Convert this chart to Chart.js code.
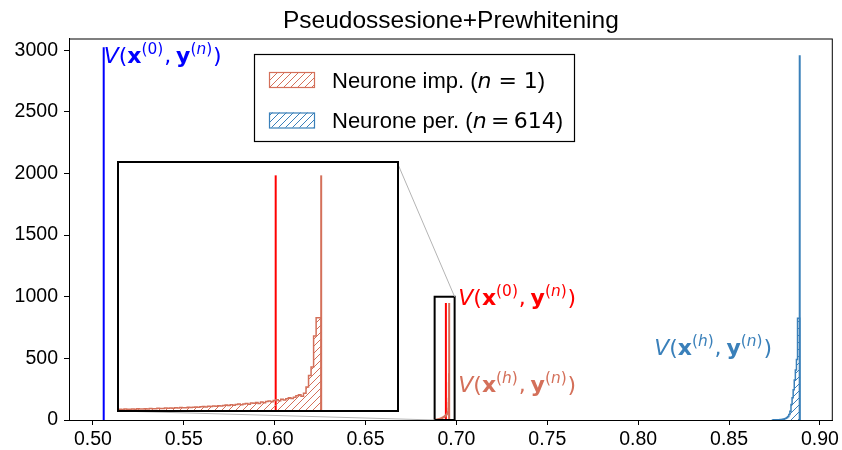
<!DOCTYPE html>
<html lang="it">
<head>
<meta charset="UTF-8">
<title>Pseudossesione+Prewhitening</title>
<script src="https://cdn.jsdelivr.net/npm/chart.js"></script>
<style>
  body { margin: 0; background: #fff; }
  .wrap { position: relative; width: 842px; height: 450px; }
  #mainChart { position: absolute; left: 0; top: 0; }
  #insetBox {
    position: absolute; left: 117px; top: 161px;
    width: 282px; height: 251px; box-sizing: border-box;
    border: 2px solid #000; background: #fff;
  }
</style>
</head>
<body>
<div class="wrap">
  <canvas id="mainChart" width="842" height="450"></canvas>
  <div id="insetBox"><canvas id="insetChart"></canvas></div>
</div>

<script>
// ---- dati ----
const xTicks = [0.50, 0.55, 0.60, 0.65, 0.70, 0.75, 0.80, 0.85, 0.90];
const yTicks = [0, 500, 1000, 1500, 2000, 2500, 3000];
const xLimits = [0.4868, 0.9071];
const yLimits = [0, 3095];
const insetXLimits = [0.688, 0.699];
const insetYLimits = [0, 1000];

// linee verticali V(x(0),y(n)) e V(x(h),y(n))
const vlineX   = [0.5059, 0.6942, 0.6960, 0.8889];
const vlineTop = [3025, 950, 950, 2960];

// istogramma neurone impostore (n = 1)
const impEdges = [0.6880, 0.6881, 0.6882, 0.6883, 0.6884, 0.6885, 0.6886, 0.6887, 0.6888, 0.6889,
                  0.6890, 0.6891, 0.6892, 0.6893, 0.6894, 0.6895, 0.6896, 0.6897, 0.6898, 0.6899,
                  0.6900, 0.6901, 0.6902, 0.6903, 0.6904, 0.6905, 0.6906, 0.6907, 0.6908, 0.6909,
                  0.6910, 0.6911, 0.6912, 0.6913, 0.6914, 0.6915, 0.6916, 0.6917, 0.6918, 0.6919,
                  0.6920, 0.6921, 0.6922, 0.6923, 0.6924, 0.6925, 0.6926, 0.6927, 0.6928, 0.6929,
                  0.6930, 0.6931, 0.6932, 0.6933, 0.6934, 0.6935, 0.6936, 0.6937, 0.6938, 0.6939,
                  0.6940, 0.6941, 0.6942, 0.6943, 0.6944, 0.6945, 0.6946, 0.6947, 0.6948, 0.6949,
                  0.6950, 0.6951, 0.6952, 0.6953, 0.6954, 0.6955, 0.6956, 0.6957, 0.6958, 0.6959,
                  0.6960];
const impCounts = [2, 3, 2, 4, 3, 3, 4, 3, 5, 4,
                   4, 5, 4, 6, 5, 5, 7, 6, 6, 8,
                   7, 8, 7, 9, 8, 10, 9, 9, 11, 10,
                   11, 12, 11, 13, 14, 12, 15, 14, 16, 15,
                   17, 16, 18, 20, 18, 21, 19, 22, 24, 21,
                   24, 26, 23, 28, 27, 30, 26, 32, 29, 34,
                   36, 33, 38, 41, 37, 44, 40, 46, 50, 47,
                   52, 58, 62, 56, 68, 93, 140, 174, 300, 373];

// istogramma neuroni persona (n = 614)
const perEdges = [0.8739, 0.8745, 0.8751, 0.8757, 0.8763, 0.8769, 0.8775, 0.8781, 0.8787, 0.8793,
                  0.8799, 0.8805, 0.8811, 0.8817, 0.8823, 0.8829, 0.8835, 0.8841, 0.8847, 0.8853,
                  0.8859, 0.8865, 0.8871, 0.8877, 0.8883, 0.8889];
const perCounts = [1, 1, 2, 1, 2, 2, 3, 3, 4, 5,
                   6, 8, 10, 14, 20, 28, 45, 70, 125, 180,
                   245, 325, 405, 490, 825];

// ---- colori ----
const BLUE = '#0000ff';
const RED = '#ff0000';
const ORANGE = '#d4705a';
const STEEL = '#3a80ba';
const TICK_FONT = { family: 'Liberation Sans', size: 19.5 };

function hatch(color) {
    const c = document.createElement('canvas');
    c.width = 7; c.height = 7;
    const g = c.getContext('2d');
    g.strokeStyle = color;
    g.lineWidth = 1;
    g.beginPath();
    g.moveTo(0, 7); g.lineTo(7, 0);
    g.moveTo(-1, 1); g.lineTo(1, -1);
    g.moveTo(6, 8); g.lineTo(8, 6);
    g.stroke();
    return g.createPattern(c, 'repeat');
}

// punti a gradini a partire da bordi e conteggi
function stepPoints(edges, counts) {
    const pts = [{ x: edges[0], y: 0 }];
    counts.forEach((c, i) => pts.push({ x: edges[i], y: c }));
    pts.push({ x: edges[edges.length - 1], y: counts[counts.length - 1] });
    pts.push({ x: edges[edges.length - 1], y: 0 });
    return pts;
}

function histDataset(edges, counts, color) {
    return {
        data: stepPoints(edges, counts),
        borderColor: color,
        backgroundColor: hatch(color),
        borderWidth: 1.5,
        stepped: 'after',
        fill: 'origin',
        pointRadius: 0
    };
}

function vline(i, color) {
    return {
        data: [{ x: vlineX[i], y: 0 }, { x: vlineX[i], y: vlineTop[i] }],
        borderColor: color,
        borderWidth: 2,
        pointRadius: 0,
        fill: false
    };
}

// testo matematico V(x^(k), y^(n))
function drawMath(ctx, x, y, size, color, parts) {
    ctx.save();
    ctx.fillStyle = color;
    ctx.textBaseline = 'alphabetic';
    ctx.textAlign = 'left';
    let cx = x;
    for (const p of parts) {
        const s = p.sup ? size * 0.7 : size;
        ctx.font = `${p.style || 'normal'} ${p.weight || 'normal'} ${s}px "DejaVu Sans"`;
        ctx.fillText(p.t, cx, y - (p.sup ? size * 0.42 : 0));
        cx += ctx.measureText(p.t).width + (p.gap || 0) * size;
    }
    ctx.restore();
}

function vLabel(k) {
    return [
        { t: 'V', style: 'italic' },
        { t: '(' },
        { t: 'x', weight: 'bold' },
        { t: '(', sup: 1 },
        { t: k, sup: 1, style: k === '0' ? 'normal' : 'italic' },
        { t: ')', sup: 1, gap: 0.04 },
        { t: ',', gap: 0.22 },
        { t: 'y', weight: 'bold' },
        { t: '(', sup: 1 },
        { t: 'n', sup: 1, style: 'italic' },
        { t: ')', sup: 1, gap: 0.04 },
        { t: ')' }
    ];
}

const framePlugin = {
    id: 'frame',
    afterDraw(chart) {
        const { ctx, chartArea: a } = chart;
        ctx.save();
        ctx.strokeStyle = '#000';
        ctx.lineWidth = 1;
        ctx.strokeRect(a.left + 0.5, a.top + 0.5, a.right - a.left - 1, a.bottom - a.top);
        // titolo centrato sull'area del grafico
        ctx.fillStyle = '#000';
        ctx.font = '24.5px "Liberation Sans"';
        ctx.textAlign = 'center';
        ctx.textBaseline = 'alphabetic';
        ctx.fillText('Pseudossesione+Prewhitening', (a.left + a.right) / 2, 28);
        ctx.restore();
    }
};

const annotPlugin = {
    id: 'annot',
    afterDatasetsDraw(chart) {
        const { ctx, scales: { x, y } } = chart;

        // etichette
        drawMath(ctx, x.getPixelForValue(0.5059), y.getPixelForValue(2895), 22, BLUE, vLabel('0'));
        drawMath(ctx, x.getPixelForValue(0.7010), y.getPixelForValue(932), 22, RED, vLabel('0'));
        drawMath(ctx, x.getPixelForValue(0.7010), y.getPixelForValue(227), 22, ORANGE, vLabel('h'));
        drawMath(ctx, x.getPixelForValue(0.8088), y.getPixelForValue(527), 22, STEEL, vLabel('h'));

        // rettangolo dello zoom
        const rx0 = x.getPixelForValue(insetXLimits[0]);
        const rx1 = x.getPixelForValue(insetXLimits[1]);
        const ry0 = y.getPixelForValue(insetYLimits[0]);
        const ry1 = y.getPixelForValue(insetYLimits[1]);
        ctx.save();
        ctx.strokeStyle = '#000';
        ctx.lineWidth = 2;
        ctx.strokeRect(rx0, ry1, rx1 - rx0, ry0 - ry1);

        // connettori verso l'inset
        ctx.strokeStyle = '#b4b4b4';
        ctx.lineWidth = 1;
        ctx.beginPath();
        ctx.moveTo(397, 162); ctx.lineTo(rx1, ry1);
        ctx.moveTo(118, 411); ctx.lineTo(rx0, ry0);
        ctx.stroke();

        // legenda
        ctx.fillStyle = '#fff';
        ctx.fillRect(254, 54, 320, 87);
        ctx.strokeStyle = '#000';
        ctx.lineWidth = 1.2;
        ctx.strokeRect(254.5, 54.5, 320, 87);
        const rows = [
            { color: ORANGE, top: 72, label: 'Neurone imp. (', num: '1' },
            { color: STEEL, top: 112.5, label: 'Neurone per. (', num: '614' }
        ];
        for (const r of rows) {
            ctx.fillStyle = hatch(r.color);
            ctx.fillRect(269, r.top, 45, 15);
            ctx.strokeStyle = r.color;
            ctx.lineWidth = 1.2;
            ctx.strokeRect(269.5, r.top + 0.5, 45, 15);
            const base = r.top + 15.5;
            ctx.fillStyle = '#000';
            ctx.textBaseline = 'alphabetic';
            ctx.font = '22px "Liberation Sans"';
            ctx.fillText(r.label, 332, base);
            let cx = 332 + ctx.measureText(r.label).width;
            ctx.font = 'italic 22px "DejaVu Sans"';
            ctx.fillText('n', cx, base);
            cx += ctx.measureText('n').width;
            ctx.font = '22px "DejaVu Sans"';
            const eq = r.num === '1' ? ' = ' : '\u2009=\u2009';
            ctx.fillText(eq + r.num, cx, base);
            cx += ctx.measureText(eq + r.num).width;
            ctx.font = '22px "Liberation Sans"';
            ctx.fillText(')', cx, base);
        }
        ctx.restore();
    }
};

// ---- grafico principale ----
new Chart(document.getElementById('mainChart'), {
    type: 'line',
    data: {
        datasets: [
            histDataset(impEdges, impCounts, ORANGE),
            histDataset(perEdges, perCounts, STEEL),
            vline(0, BLUE),
            vline(1, RED),
            vline(2, ORANGE),
            vline(3, STEEL)
        ]
    },
    options: {
        responsive: false,
        animation: false,
        events: [],
        layout: { padding: { left: 0, right: 8, top: 38.5, bottom: 0 } },
        plugins: {
            legend: { display: false },
            tooltip: { enabled: false },
            title: { display: false }
        },
        scales: {
            x: {
                type: 'linear',
                min: xLimits[0],
                max: xLimits[1],
                afterBuildTicks: s => { s.ticks = xTicks.map(v => ({ value: v })); },
                afterFit: s => { s.height = 30; },
                ticks: {
                    callback: v => v.toFixed(2),
                    color: '#000',
                    font: TICK_FONT,
                    padding: 3,
                    maxRotation: 0,
                    autoSkip: false
                },
                grid: { drawOnChartArea: false, tickLength: 5, color: '#000' },
                border: { color: '#000', width: 1 }
            },
            y: {
                min: yLimits[0],
                max: yLimits[1],
                afterBuildTicks: s => { s.ticks = yTicks.map(v => ({ value: v })); },
                afterFit: s => { s.width = 69; },
                ticks: { callback: v => String(v), color: '#000', font: TICK_FONT, padding: 6 },
                grid: { drawOnChartArea: false, tickLength: 5, color: '#000' },
                border: { color: '#000', width: 1 }
            }
        }
    },
    plugins: [framePlugin, annotPlugin]
});

// ---- inset ----
new Chart(document.getElementById('insetChart'), {
    type: 'line',
    data: {
        datasets: [
            histDataset(impEdges, impCounts, ORANGE),
            vline(1, RED),
            vline(2, ORANGE)
        ]
    },
    options: {
        responsive: true,
        maintainAspectRatio: false,
        animation: false,
        events: [],
        layout: { padding: 0 },
        plugins: { legend: { display: false }, tooltip: { enabled: false } },
        scales: {
            x: { type: 'linear', display: false, min: insetXLimits[0], max: insetXLimits[1] },
            y: { display: false, min: insetYLimits[0], max: insetYLimits[1] }
        }
    }
});
</script>
</body>
</html>
